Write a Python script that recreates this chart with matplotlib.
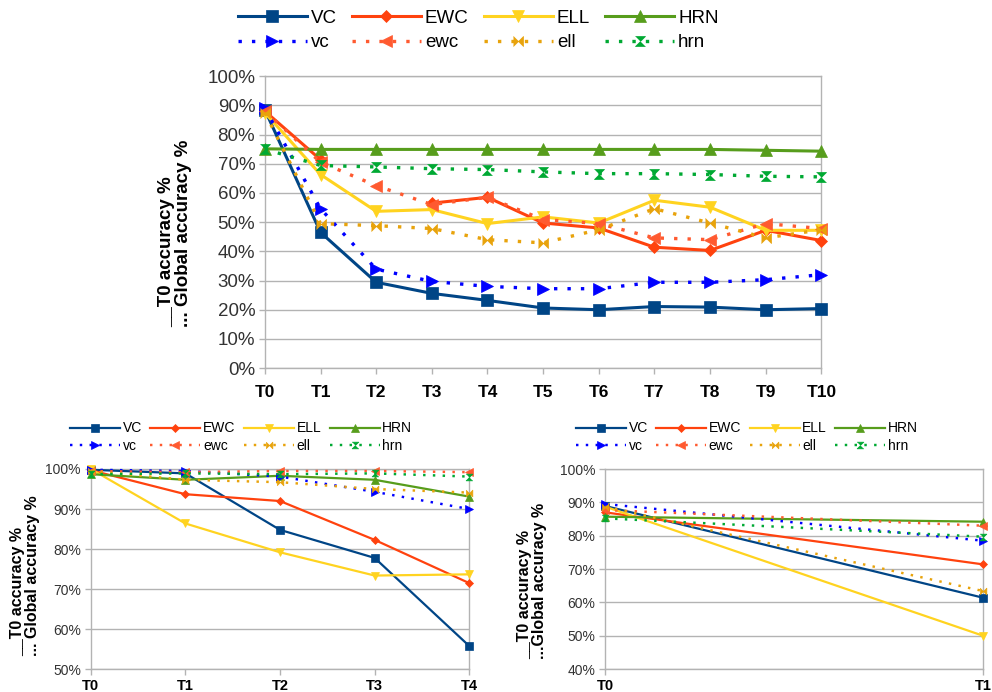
import numpy as np
import matplotlib.pyplot as plt
from matplotlib.ticker import FuncFormatter

plt.rcParams['font.family'] = ['Liberation Sans', 'DejaVu Sans']

# series names, solid = T0 accuracy, dotted = global accuracy
names = ['VC', 'EWC', 'ELL', 'HRN']
dot_names = ['vc', 'ewc', 'ell', 'hrn']

# top chart: T0..T10 (EWC has no value at T2)
top_steps = ['T0', 'T1', 'T2', 'T3', 'T4', 'T5', 'T6', 'T7', 'T8', 'T9', 'T10']
top_VC = [88.5, 46.5, 29.4, 25.6, 23.2, 20.6, 20.0, 21.1, 20.9, 20.0, 20.4]
top_EWC = [88.0, 71.4, np.nan, 56.5, 58.5, 49.7, 48.0, 41.4, 40.3, 47.2, 43.7]
top_ELL = [87.5, 66.3, 53.7, 54.3, 49.5, 51.8, 49.7, 57.5, 55.1, 47.2, 47.2]
top_HRN = [75.1, 74.9, 74.9, 74.9, 74.9, 74.9, 74.9, 74.9, 74.9, 74.6, 74.3]
top_vc = [89.0, 54.6, 33.9, 29.7, 28.0, 27.2, 27.2, 29.4, 29.4, 30.3, 32.0]
top_ewc = [88.0, 70.5, 62.5, 56.0, 58.5, 50.9, 49.5, 44.6, 44.0, 49.5, 47.8]
top_ell = [87.5, 49.5, 48.8, 47.8, 44.0, 42.9, 47.4, 54.6, 49.7, 44.6, 47.4]
top_hrn = [75.0, 69.4, 68.9, 68.3, 68.0, 67.2, 66.6, 66.6, 66.3, 65.7, 65.5]

# bottom left chart: T0..T4
bl_steps = ['T0', 'T1', 'T2', 'T3', 'T4']
bl_VC = [99.8, 98.9, 84.8, 77.8, 55.8]
bl_EWC = [99.7, 93.7, 92.0, 82.3, 71.5]
bl_ELL = [100.0, 86.4, 79.2, 73.4, 73.7]
bl_HRN = [98.7, 97.3, 98.3, 97.3, 93.1]
bl_vc = [99.8, 99.5, 98.1, 94.3, 90.0]
bl_ewc = [99.5, 99.2, 99.5, 99.5, 99.2]
bl_ell = [99.5, 97.3, 96.7, 95.0, 94.1]
bl_hrn = [98.7, 98.9, 98.7, 98.9, 98.1]

# bottom right chart: T0..T1
br_steps = ['T0', 'T1']
br_VC = [88.9, 61.4]
br_EWC = [87.0, 71.4]
br_ELL = [88.7, 50.0]
br_HRN = [85.7, 84.2]
br_vc = [89.5, 78.5]
br_ewc = [87.7, 83.0]
br_ell = [88.7, 63.4]
br_hrn = [85.2, 79.7]

solid_colors = ['#004586', '#ff420e', '#ffd320', '#579d1c']
dot_colors = ['#0000ff', '#ff5a30', '#e8a30c', '#00a933']
bowtie = [(-1, 1), (1, -1), (1, 1), (-1, -1)]
hourglass = [(-1, 1), (1, 1), (-1, -1), (1, -1)]
solid_markers = ['s', 'D', 'v', '^']
dot_markers = ['>', '<', bowtie, hourglass]
grid_col = '#b3b3b3'


def draw(ax, steps, solid, dotted, ylim, lw, ms, tick_fs, xtick_fs, pad):
    x = np.arange(len(steps))
    handles = []
    lines_solid = []
    for i in range(4):
        m_scale = 0.72 if solid_markers[i] == 'D' else 1.0
        l, = ax.plot(x, solid[i], color=solid_colors[i], lw=lw, marker=solid_markers[i],
                     ms=ms * m_scale, mec=solid_colors[i], mew=0.5, clip_on=False,
                     label=names[i], zorder=3)
        lines_solid.append(l)
    lines_dot = []
    for i in range(4):
        m_scale = 0.8 if i >= 2 else 1.0
        l, = ax.plot(x, dotted[i], color=dot_colors[i], lw=lw * 1.1, ls=(0, (1, 3)),
                     marker=dot_markers[i], ms=ms * m_scale, mec=dot_colors[i], mew=0.5,
                     clip_on=False, label=dot_names[i], zorder=3)
        lines_dot.append(l)
    for i in range(4):
        handles += [lines_solid[i], lines_dot[i]]

    ax.set_xlim(0, len(steps) - 1)
    ax.set_ylim(*ylim)
    ax.set_xticks(x)
    ax.set_xticklabels(steps, fontsize=xtick_fs, fontweight='bold')
    ax.yaxis.set_major_formatter(FuncFormatter(lambda v, p: f'{v:.0f}%'))
    ax.tick_params(axis='y', labelsize=tick_fs, colors=grid_col, labelcolor='#333333',
                   length=4, width=1, pad=3)
    ax.tick_params(axis='x', colors=grid_col, labelcolor='black', length=4, width=1, pad=pad)
    ax.grid(axis='y', color=grid_col, lw=1)
    ax.set_axisbelow(True)
    for s in ax.spines.values():
        s.set_color(grid_col)
        s.set_linewidth(1)
    return handles


fig = plt.figure(figsize=(9.92, 6.92), dpi=100)

# top chart
ax = fig.add_axes([0.267, 0.468, 0.561, 0.422])
h = draw(ax, top_steps, [top_VC, top_EWC, top_ELL, top_HRN],
         [top_vc, top_ewc, top_ell, top_hrn], (0, 100), 2.2, 9, 13.5, 12.5, 8)
ax.set_yticks(np.arange(0, 101, 10))
ax.set_ylabel('__T0 accuracy %\n... Global accuracy %', fontsize=13.5, fontweight='bold',
              linespacing=1.0, multialignment='left')
ax.yaxis.set_label_coords(-0.131, 0.462)
fig.legend(handles=h, ncol=4, loc='upper center', bbox_to_anchor=(0.482, 1.005),
           frameon=False, fontsize=13.5, handlelength=3.7, handletextpad=0.2,
           columnspacing=0.8, labelspacing=0.4, borderpad=0.2)

# bottom left chart
ax = fig.add_axes([0.0914, 0.0328, 0.3817, 0.2895])
h = draw(ax, bl_steps, [bl_VC, bl_EWC, bl_ELL, bl_HRN],
         [bl_vc, bl_ewc, bl_ell, bl_hrn], (50, 100), 1.6, 6, 10, 10.5, 3)
ax.set_yticks(np.arange(50, 101, 10))
ax.set_ylabel('__T0 accuracy %\n... Global accuracy %', fontsize=11.5, fontweight='bold',
              linespacing=1.0, multialignment='left')
ax.yaxis.set_label_coords(-0.134, 0.466)
fig.legend(handles=h, ncol=4, loc='upper center', bbox_to_anchor=(0.243, 0.405),
           frameon=False, fontsize=10, handlelength=3.6, handletextpad=0.2,
           columnspacing=0.6, labelspacing=0.25, borderpad=0.2)

# bottom right chart
ax = fig.add_axes([0.6102, 0.0332, 0.3807, 0.289])
h = draw(ax, br_steps, [br_VC, br_EWC, br_ELL, br_HRN],
         [br_vc, br_ewc, br_ell, br_hrn], (40, 100), 1.6, 6, 10, 10.5, 3)
ax.set_yticks(np.arange(40, 101, 10))
ax.set_ylabel('__T0 accuracy %\n...Global accuracy %', fontsize=11.5, fontweight='bold',
              linespacing=1.0, multialignment='left')
ax.yaxis.set_label_coords(-0.154, 0.44)
fig.legend(handles=h, ncol=4, loc='upper center', bbox_to_anchor=(0.753, 0.405),
           frameon=False, fontsize=10, handlelength=3.6, handletextpad=0.2,
           columnspacing=0.6, labelspacing=0.25, borderpad=0.2)

fig.savefig('out.png', dpi=100)
